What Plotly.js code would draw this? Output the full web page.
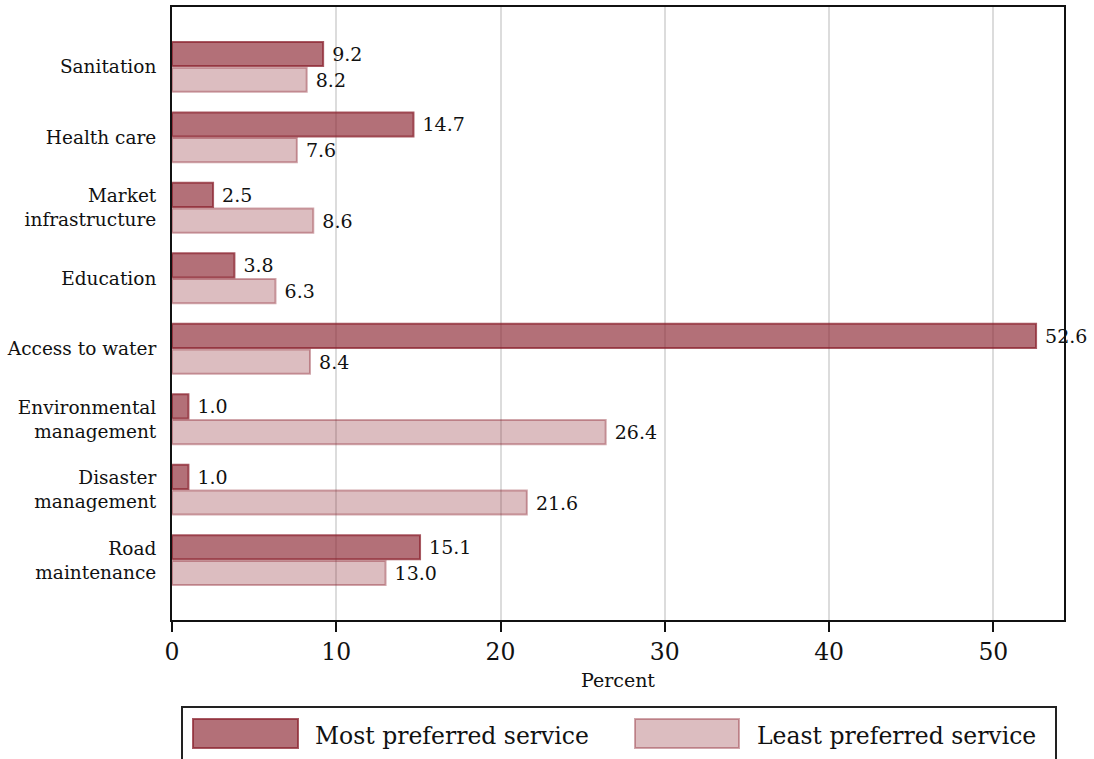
<!DOCTYPE html>
<html>
<head>
<meta charset="utf-8">
<script src="https://cdn.plot.ly/plotly-3.0.1.min.js"></script>
<style>html,body{margin:0;padding:0;background:#fff;}#chart{width:1094px;height:759px;}</style>
</head>
<body>
<div id="chart"></div>
<script>
const categories = ["Sanitation", "Health care", "Market<br>infrastructure", "Education", "Access to water", "Environmental<br>management", "Disaster<br>management", "Road<br>maintenance"];
const mostPreferred = [9.2, 14.7, 2.5, 3.8, 52.6, 1.0, 1.0, 15.1];
const leastPreferred = [8.2, 7.6, 8.6, 6.3, 8.4, 26.4, 21.6, 13.0];
const seriesNames = ["Most preferred service", "Least preferred service"];
const xTicks = [0, 10, 20, 30, 40, 50];
const axisTitle = "Percent";

const FONT = "DejaVu Serif";
const mostFill = "rgba(139,35,47,0.65)", mostLine = "rgba(139,35,47,0.75)";
const leastFill = "rgba(139,35,47,0.30)", leastLine = "rgba(139,35,47,0.40)";

const W = 1094, H = 759, ML = 172, MR = 30, MT = 7, MB = 139;
const PW = W - ML - MR, PH = H - MT - MB;
const px = X => (X - ML) / PW;
const py = Y => (H - MB - Y) / PH;

function barTrace(vals, name, fill, line) {
  return {
    type: "bar", orientation: "h", name: name,
    x: vals, y: categories,
    marker: {color: fill, line: {color: line, width: 2}},
    text: vals.map(v => "\u00a0" + v.toFixed(1)),
    textposition: "outside", textfont: {family: FONT, size: 19, color: "#111"},
    cliponaxis: false, constraintext: "none",
    hoverinfo: "x+y", showlegend: false
  };
}

const data = [
  barTrace(mostPreferred, seriesNames[0], mostFill, mostLine),
  barTrace(leastPreferred, seriesNames[1], leastFill, leastLine)
];

const shapes = [
  {type: "rect", xref: "paper", yref: "paper", x0: px(182), x1: px(1056), y0: py(707), y1: py(760),
   line: {color: "#222", width: 2}, fillcolor: "rgba(0,0,0,0)"},
  {type: "rect", xref: "paper", yref: "paper", x0: px(193), x1: px(298), y0: py(719), y1: py(748),
   line: {color: mostLine, width: 2}, fillcolor: mostFill},
  {type: "rect", xref: "paper", yref: "paper", x0: px(635), x1: px(739), y0: py(719), y1: py(748),
   line: {color: leastLine, width: 2}, fillcolor: leastFill}
];
const annotations = [
  {xref: "paper", yref: "paper", x: px(313), y: py(736), xanchor: "left", yanchor: "middle",
   text: seriesNames[0], showarrow: false, font: {family: FONT, size: 23.5, color: "#111"}},
  {xref: "paper", yref: "paper", x: px(755), y: py(736), xanchor: "left", yanchor: "middle",
   text: seriesNames[1], showarrow: false, font: {family: FONT, size: 23.5, color: "#111"}}
];

const layout = {
  width: W, height: H,
  margin: {l: ML, r: MR, t: MT, b: MB, pad: 0},
  paper_bgcolor: "#fff", plot_bgcolor: "#fff",
  barmode: "group", bargap: 0.27, bargroupgap: 0.06,
  font: {family: FONT, color: "#111"},
  xaxis: {
    range: [0, 54.3], tickvals: xTicks, ticktext: xTicks.map(String),
    showgrid: true, gridcolor: "#dcdcdc", gridwidth: 2,
    zeroline: false, showline: true, linecolor: "#111", linewidth: 2, mirror: true,
    ticks: "outside", ticklen: 10, tickwidth: 2, tickcolor: "#111",
    tickfont: {family: FONT, size: 23.5, color: "#111"},
    title: {text: axisTitle, font: {family: FONT, size: 19, color: "#111"}, standoff: 8}
  },
  yaxis: {
    type: "category", autorange: false, range: [7.85, -0.85],
    showgrid: false, zeroline: false, showline: true, linecolor: "#111", linewidth: 2, mirror: true,
    ticks: "", ticklabelstandoff: 10,
    tickfont: {family: FONT, size: 18.5, color: "#111"}
  },
  shapes: shapes, annotations: annotations
};

Plotly.newPlot("chart", data, layout, {displayModeBar: false, staticPlot: true});
</script>
</body>
</html>
